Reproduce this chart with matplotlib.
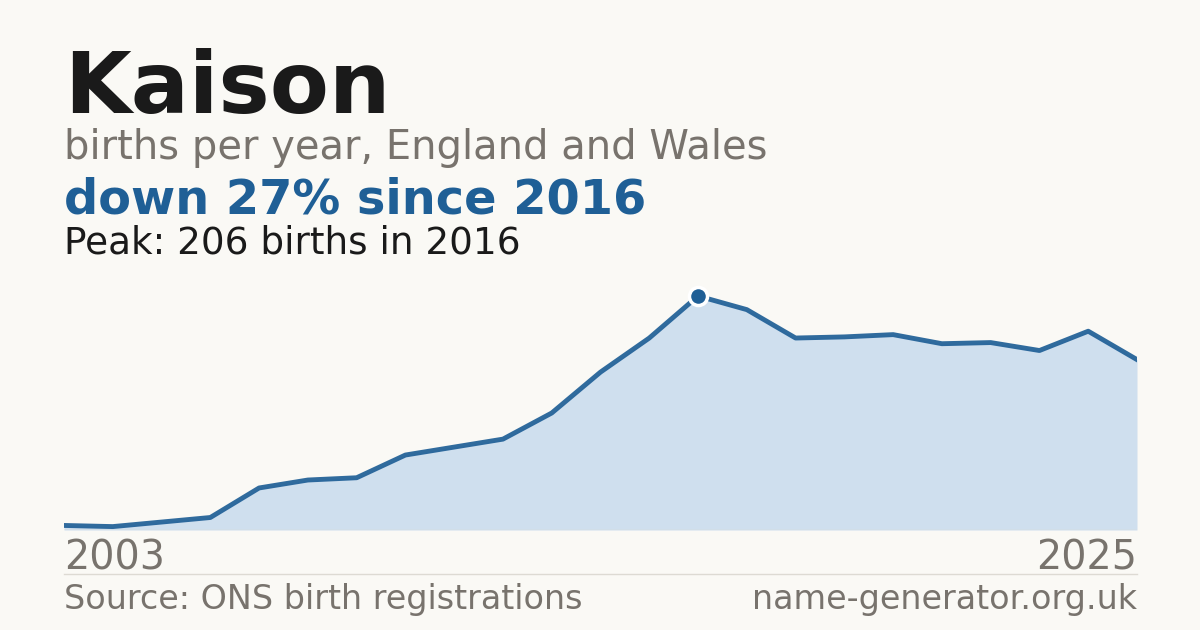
import numpy as np
import matplotlib.pyplot as plt

# births per year for the name
years = list(range(2003, 2026))
births = [4, 3, 7, 11, 37, 44, 46, 66, 73, 80, 103, 139, 169,
          206, 194, 169, 170, 172, 164, 165, 158, 175, 150]

name = "Kaison"
subtitle = "births per year, England and Wales"
source = "Source: ONS birth registrations"
site = "name-generator.org.uk"

BG = "#faf9f5"
BLUE = "#1f5f96"
FILL = "#cfdfee"
GREY = "#78736d"
DARK = "#1a1a1a"

peak_i = int(np.argmax(births))
peak_year = years[peak_i]
peak_val = births[peak_i]
change = round((births[-1] - peak_val) / peak_val * 100)

fig = plt.figure(figsize=(12, 6.3), dpi=100)
fig.patch.set_facecolor(BG)

W, H = 1200, 630
ax = fig.add_axes([64 / W, (H - 530) / H, 1073 / W, 234 / H])
ax.set_facecolor(BG)
ax.fill_between(years, births, 0, color=FILL, lw=0)
ax.plot(years, births, color=BLUE, lw=3.5, alpha=0.92)
ax.plot([peak_year], [peak_val], "o", ms=13, color=BLUE,
        mec="white", mew=2.5, clip_on=False, zorder=5)
ax.set_xlim(years[0], years[-1])
ax.set_ylim(0, peak_val)
ax.axis("off")
ax.axhline(0, color="#dddad3", lw=1)

# header text
fig.text(64 / W, 1 - 113 / H, name, fontsize=62, fontweight="bold",
         color=DARK, va="baseline")
fig.text(64 / W, 1 - 159 / H, subtitle, fontsize=28.8, color=GREY,
         va="baseline")
fig.text(64 / W, 1 - 214 / H, f"down {abs(change)}% since {peak_year}",
         fontsize=34.5, fontweight="bold", color=BLUE, va="baseline")
fig.text(64 / W, 1 - 254 / H, f"Peak: {peak_val} births in {peak_year}",
         fontsize=26.9, color=DARK, va="baseline")

# axis end labels
fig.text(64 / W, 1 - 569 / H, str(years[0]), fontsize=28.5, color=GREY,
         va="baseline")
fig.text(1137 / W, 1 - 569 / H, str(years[-1]), fontsize=28.5, color=GREY,
         va="baseline", ha="right")

fig.add_artist(plt.Line2D([64 / W, 1137 / W], [1 - 574 / H, 1 - 574 / H],
                          color="#dddad3", lw=1))

fig.text(64 / W, 1 - 609 / H, source, fontsize=24, color=GREY,
         va="baseline")
fig.text(1137 / W, 1 - 609 / H, site, fontsize=24, color=GREY,
         va="baseline", ha="right")

fig.savefig("out.png", dpi=100, facecolor=BG)
